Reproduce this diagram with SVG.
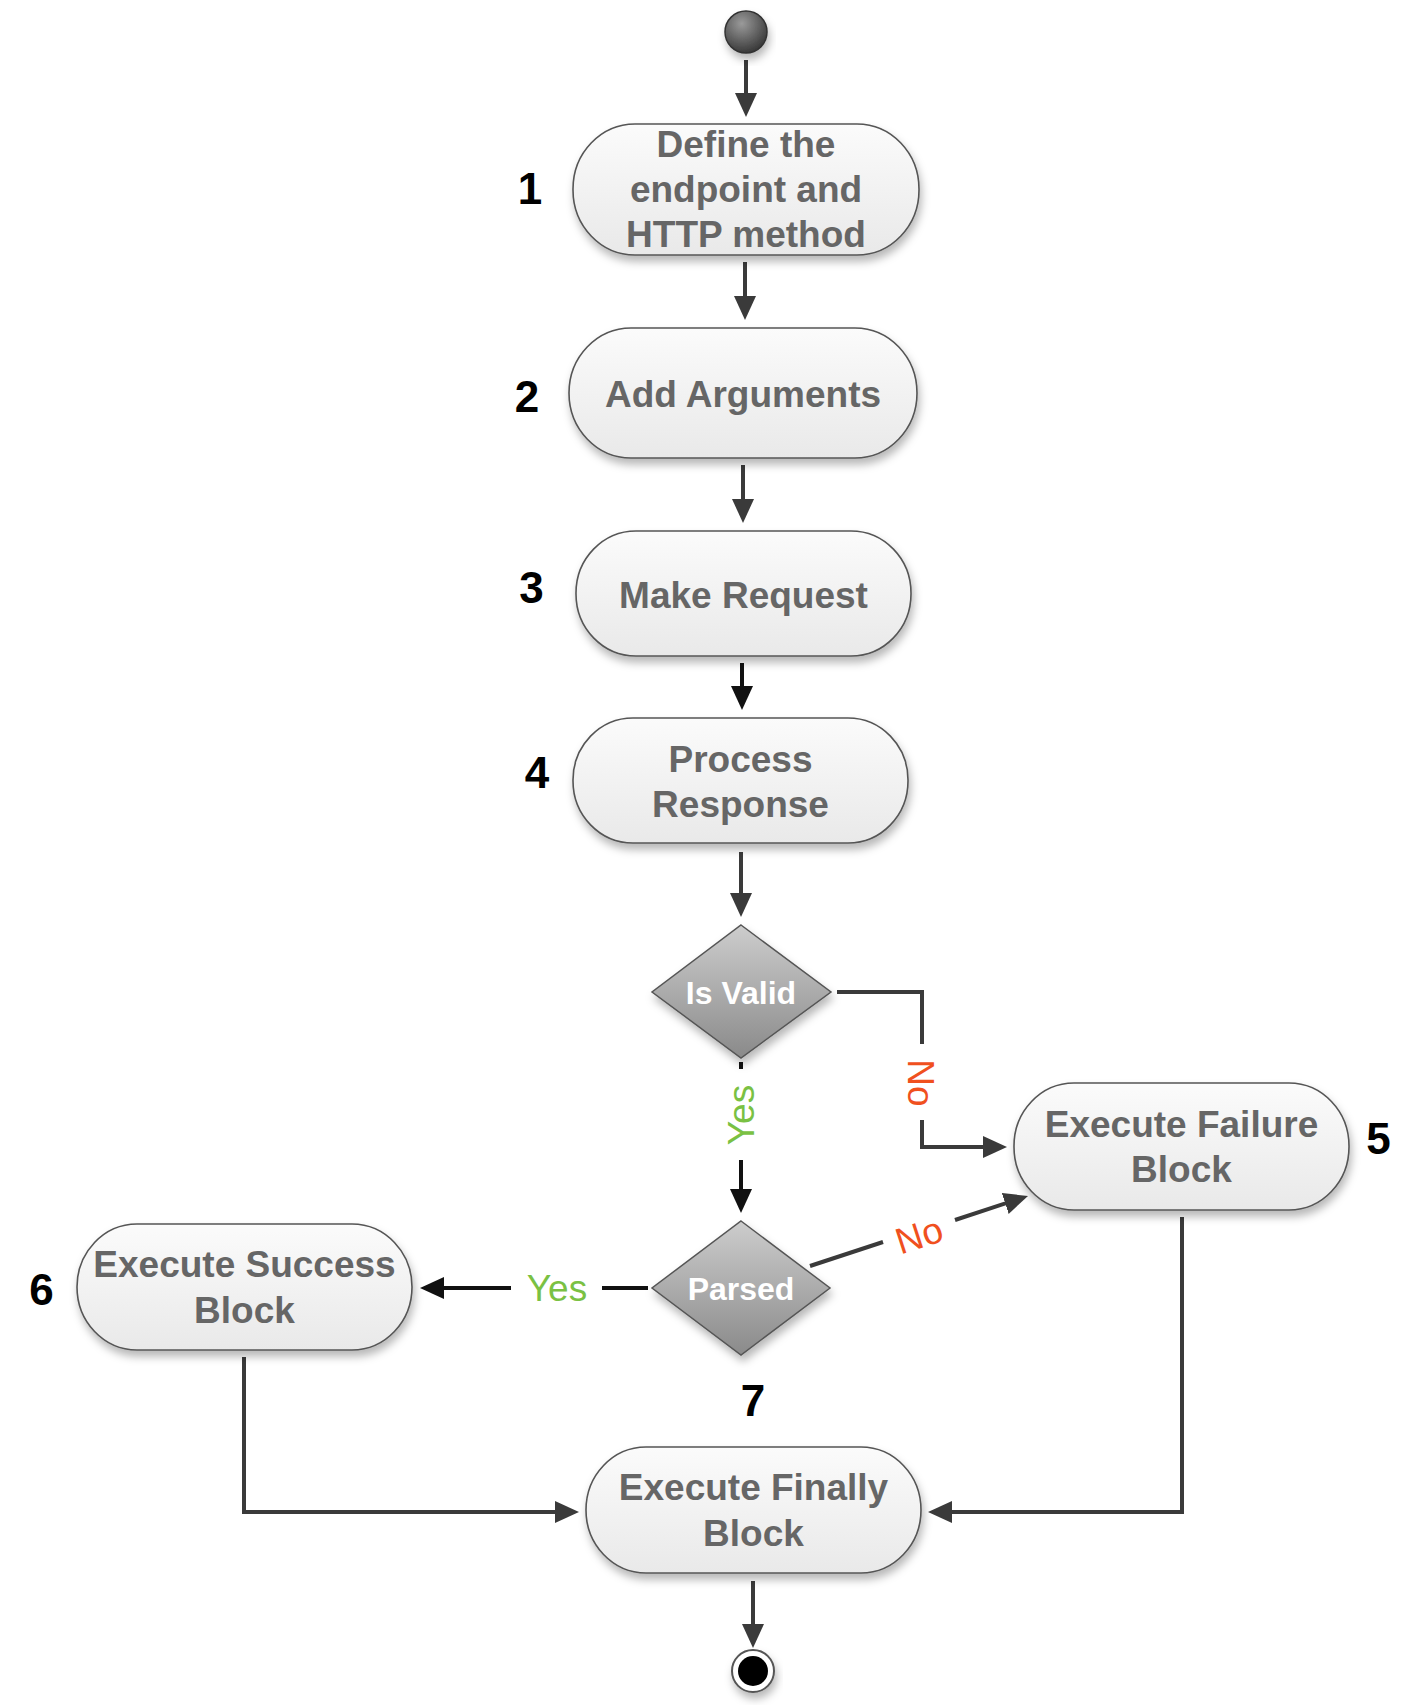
<svg xmlns="http://www.w3.org/2000/svg" width="1408" height="1705" viewBox="0 0 1408 1705">
<defs>
<linearGradient id="nodeFill" x1="0" y1="0" x2="0" y2="1">
<stop offset="0" stop-color="#fbfbfb"/>
<stop offset="1" stop-color="#e9e9e9"/>
</linearGradient>
<linearGradient id="diaFill" x1="0" y1="0" x2="0" y2="1">
<stop offset="0" stop-color="#cdcdcd"/>
<stop offset="1" stop-color="#8a8a8a"/>
</linearGradient>
<radialGradient id="startFill" cx="0.4" cy="0.3" r="0.7">
<stop offset="0" stop-color="#9a9a9a"/>
<stop offset="1" stop-color="#3a3a3a"/>
</radialGradient>
<filter id="shadow" x="-20%" y="-20%" width="140%" height="150%">
<feDropShadow dx="2" dy="6" stdDeviation="4" flood-color="#000" flood-opacity="0.28"/>
</filter>
<marker id="arrow" markerUnits="userSpaceOnUse" markerWidth="24" markerHeight="22" refX="14" refY="11" orient="auto">
<path d="M0,0 L24,11 L0,22 z" fill="#3a3a3a"/>
</marker>
<marker id="arrowBlack" markerUnits="userSpaceOnUse" markerWidth="24" markerHeight="22" refX="14" refY="11" orient="auto">
<path d="M0,0 L24,11 L0,22 z" fill="#111"/>
</marker>
<style>
.node{fill:url(#nodeFill);stroke:#555;stroke-width:1.6;filter:url(#shadow)}
.dia{fill:url(#diaFill);stroke:#555;stroke-width:1.5;filter:url(#shadow)}
.nt{font-family:"Liberation Sans",Arial,sans-serif;font-weight:bold;font-size:37px;fill:#666;text-anchor:middle}
.dt{font-family:"Liberation Sans",Arial,sans-serif;font-weight:bold;font-size:32px;fill:#fff;text-anchor:middle}
.num{font-family:"Liberation Sans",Arial,sans-serif;font-weight:bold;font-size:44px;fill:#000;text-anchor:middle}
.lbl{font-family:"Liberation Sans",Arial,sans-serif;font-size:37px;text-anchor:middle}
.yes{fill:#7ac143}
.no{fill:#f0501e}
.c{fill:none;stroke:#3a3a3a;stroke-width:4}
.cb{fill:none;stroke:#111;stroke-width:4}
</style>
</defs>
<rect width="1408" height="1705" fill="#fff"/>

<g id="connectors">
<path class="c" d="M746,60 V107" marker-end="url(#arrow)"/>
<path class="c" d="M745,262 V310" marker-end="url(#arrow)"/>
<path class="c" d="M743,465 V513" marker-end="url(#arrow)"/>
<path class="cb" d="M742,663 V700" marker-end="url(#arrowBlack)"/>
<path class="c" d="M741,852 V907" marker-end="url(#arrow)"/>
<path class="c" d="M837,992 H922 V1044"/>
<path class="c" d="M922,1120 V1147 H997" marker-end="url(#arrow)"/>
<path class="cb" d="M741,1062 V1069"/>
<path class="cb" d="M741,1160 V1203" marker-end="url(#arrowBlack)"/>
<path class="cb" d="M648,1288 H602"/>
<path class="cb" d="M511,1288 H430" marker-end="url(#arrowBlack)"/>
<path class="c" d="M810,1266 L883,1242"/>
<path class="c" d="M955,1220 L1018.5,1199.1" marker-end="url(#arrow)"/>
<path class="c" d="M1182,1217 V1512 H938" marker-end="url(#arrow)"/>
<path class="c" d="M244,1357 V1512 H569" marker-end="url(#arrow)"/>
<path class="c" d="M753,1581 V1638" marker-end="url(#arrow)"/>
<text class="lbl no" transform="translate(921,1083) rotate(90)" y="13">No</text>
<text class="lbl yes" transform="translate(741,1115) rotate(-90)" y="13">Yes</text>
<text class="lbl yes" x="557" y="1301">Yes</text>
<text class="lbl no" transform="translate(919,1235) rotate(-18)" y="13">No</text>
</g>

<g id="start">
<circle cx="746" cy="32" r="21" fill="url(#startFill)" stroke="#333" stroke-width="1.5" filter="url(#shadow)"/>
</g>

<g id="n1">
<rect class="node" x="573" y="124" width="346" height="131" rx="62" ry="65"/>
<text class="nt" x="746" y="157">Define the</text>
<text class="nt" x="746" y="202">endpoint and</text>
<text class="nt" x="746" y="247">HTTP method</text>
<text class="num" x="530" y="204">1</text>
</g>

<g id="n2">
<rect class="node" x="569" y="328" width="348" height="130" rx="62" ry="65"/>
<text class="nt" x="743" y="407">Add Arguments</text>
<text class="num" x="527" y="412">2</text>
</g>

<g id="n3">
<rect class="node" x="576" y="531" width="335" height="125" rx="60" ry="62"/>
<text class="nt" x="743.5" y="608">Make Request</text>
<text class="num" x="531.5" y="603">3</text>
</g>

<g id="n4">
<rect class="node" x="573" y="718" width="335" height="125" rx="60" ry="62"/>
<text class="nt" x="740.5" y="772">Process</text>
<text class="nt" x="740.5" y="817">Response</text>
<text class="num" x="537" y="788">4</text>
</g>

<g id="isvalid">
<polygon class="dia" points="741,925 831,992 741,1058 652,992"/>
<text class="dt" x="741" y="1004">Is Valid</text>
</g>

<g id="parsed">
<polygon class="dia" points="741,1221 830,1288 741,1355 652,1288"/>
<text class="dt" x="741" y="1300">Parsed</text>
<text class="num" x="753" y="1416">7</text>
</g>

<g id="failure">
<rect class="node" x="1014" y="1083" width="335" height="127" rx="60" ry="63"/>
<text class="nt" x="1181.5" y="1137">Execute Failure</text>
<text class="nt" x="1181.5" y="1182">Block</text>
<text class="num" x="1378.5" y="1154">5</text>
</g>

<g id="success">
<rect class="node" x="77" y="1224" width="335" height="126" rx="60" ry="63"/>
<text class="nt" x="244.5" y="1277">Execute Success</text>
<text class="nt" x="244.5" y="1323">Block</text>
<text class="num" x="41.5" y="1305">6</text>
</g>

<g id="finally">
<rect class="node" x="586" y="1447" width="335" height="126" rx="60" ry="63"/>
<text class="nt" x="753.5" y="1500">Execute Finally</text>
<text class="nt" x="753.5" y="1546">Block</text>
</g>

<g id="end">
<circle cx="753" cy="1671" r="21" fill="#fff" stroke="#555" stroke-width="2" filter="url(#shadow)"/>
<circle cx="753" cy="1671" r="15" fill="#000"/>
</g>
</svg>
